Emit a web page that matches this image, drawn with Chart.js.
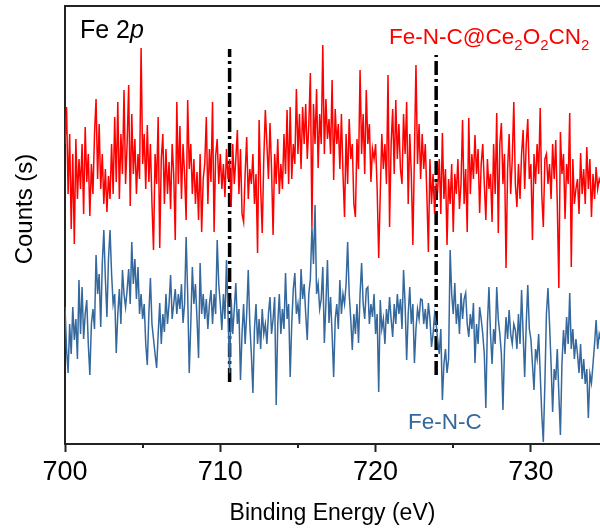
<!DOCTYPE html>
<html>
<head>
<meta charset="utf-8">
<script src="https://cdn.jsdelivr.net/npm/chart.js@4"></script>
<style>
  html, body { margin: 0; padding: 0; background: #fff; }
  #wrap { width: 600px; height: 531px; }
</style>
</head>
<body>
<div id="wrap"><canvas id="xps" width="600" height="531"></canvas></div>
<script>
// Binding energy grid (eV): 700.0 -> 734.5, step 0.1
const eStart = 700.0;
const eStep = 0.1;

// Fe-N-C@Ce2O2CN2 (red), counts in arbitrary units, one row per eV
const countsCeO = [
  300,337,250,310,215,290,200,305,245,285,
  255,300,230,317,262,290,228,280,250,310,
  345,265,320,255,290,240,275,232,268,245,
  300,250,327,262,342,245,310,270,354,260,
  300,359,238,330,270,305,250,290,265,396,
  280,310,255,319,262,300,240,194,290,260,
  327,196,285,310,240,295,250,282,235,300,
  270,204,342,260,318,245,300,270,224,344,
  275,300,250,285,240,272,224,290,212,265,
  280,327,240,295,262,342,212,288,305,260,
  290,255,280,247,295,265,285,237,300,260,
  285,314,250,295,230,222,270,307,245,275,
  260,290,240,270,191,324,255,211,285,334,
  300,265,321,275,209,290,260,305,250,280,
  255,310,270,334,260,337,265,300,280,355,
  290,330,275,337,300,340,285,320,371,217,
  340,300,355,276,330,300,399,290,345,305,
  325,290,364,264,335,300,320,275,330,270,
  227,310,260,325,285,300,240,227,305,275,
  374,290,330,270,354,300,320,262,295,285,
  300,255,186,250,310,275,300,260,369,217,
  300,335,270,344,285,320,275,260,330,290,
  342,240,310,270,199,290,379,280,320,265,
  310,275,300,250,192,285,240,270,230,260,
  255,285,230,311,245,275,199,265,240,280,
  212,270,250,285,235,260,324,240,275,212,
  326,250,290,265,309,270,295,231,280,300,
  260,224,285,255,270,222,300,250,331,211,
  300,321,260,290,176,275,310,250,285,342,
  260,237,280,245,290,314,255,300,325,265,
  280,204,290,260,300,270,336,250,217,285,
  290,260,280,245,300,265,304,240,156,312,
  270,290,225,280,260,331,177,285,240,255,
  265,230,291,250,275,240,297,255,285,227,
  270,245,277,255,265,260
];

// Fe-N-C (blue)
const countsFeNC = [
  137,95,71,120,90,137,104,125,85,164,
  110,157,105,130,144,100,69,120,135,115,
  189,150,170,117,180,214,165,127,185,214,
  170,140,150,91,130,155,120,174,150,137,
  154,175,140,202,160,185,145,177,130,150,
  125,140,100,79,130,166,120,105,90,76,
  110,141,100,130,112,150,120,140,169,125,
  140,155,130,150,135,160,121,140,207,150,
  71,120,177,140,160,125,86,181,130,150,
  125,145,115,140,154,120,150,130,204,160,
  140,114,150,125,184,130,71,145,110,135,
  161,120,135,64,110,140,100,130,174,120,
  90,51,115,140,100,125,95,135,110,120,
  100,130,147,110,125,147,39,120,150,110,
  135,115,171,125,140,67,120,155,171,130,
  140,120,175,145,160,130,104,150,165,217,
  180,239,150,160,135,145,177,101,140,184,
  121,147,110,67,125,140,115,164,130,150,
  140,160,202,150,125,94,130,110,140,101,
  150,181,140,125,155,157,120,140,127,150,
  110,130,52,144,115,125,100,135,120,147,
  125,107,140,120,150,130,145,115,174,140,
  84,130,157,120,140,81,115,135,125,145,
  144,120,135,115,141,125,97,110,130,120,
  104,90,115,44,80,95,71,85,194,150,
  130,161,120,140,110,151,125,145,151,120,
  107,130,115,141,81,120,100,137,125,110,
  90,36,120,157,110,80,115,100,157,125,
  110,90,34,95,127,105,134,110,100,120,
  114,95,130,100,154,110,67,120,159,115,
  105,80,54,95,85,110,70,30,2,60,
  130,156,120,80,32,75,64,95,50,9,
  80,114,90,127,100,151,95,115,85,105,
  90,71,100,65,85,60,75,26,70,61,
  80,100,124,95,110,104
];

// reference positions (dash-dot markers)
const markerEnergies = [710.6, 723.9];
const markerTop = [395, 389];
const markerBottom = [62, 69];

const xTickValues = [700, 710, 720, 730];
const xMinorTicks = [705, 715, 725];

const red = '#ff0000';
const blue = '#35689d';
const axisColor = '#222222';
const fontFamily = '"Liberation Sans", Arial, sans-serif';

function toPoints(values) {
  return values.map((v, i) => ({ x: +(eStart + i * eStep).toFixed(1), y: v }));
}

const markerSets = markerEnergies.map((e, i) => ({
  data: [{ x: e, y: markerBottom[i] }, { x: e, y: markerTop[i] }],
  borderColor: '#000',
  borderWidth: 3.5,
  borderDash: [14, 4, 3, 4],
  pointRadius: 0,
  order: 0,
}));

// draws text runs (sub / italic) left to right
function drawRuns(ctx, runs, x, y) {
  let cx = x;
  runs.forEach(r => {
    ctx.font = (r.italic ? 'italic ' : '') + r.size + 'px ' + fontFamily;
    ctx.fillText(r.t, cx, y + (r.dy || 0));
    cx += ctx.measureText(r.t).width;
  });
}

const labelPlugin = {
  id: 'xpsLabels',
  afterDraw(chart) {
    const ctx = chart.ctx;
    const { left, right, top, bottom } = chart.chartArea;
    const xs = chart.scales.x;
    ctx.save();
    ctx.strokeStyle = axisColor;
    ctx.lineWidth = 2;
    ctx.beginPath();
    ctx.moveTo(left - 1, top);
    ctx.lineTo(right, top);
    // short minor ticks
    xMinorTicks.forEach(v => {
      const px = Math.round(xs.getPixelForValue(v));
      ctx.moveTo(px, bottom);
      ctx.lineTo(px, bottom + 4);
    });
    ctx.stroke();

    // y title
    ctx.save();
    ctx.translate(25, 209);
    ctx.rotate(-Math.PI / 2);
    ctx.fillStyle = '#000';
    ctx.font = '24px ' + fontFamily;
    ctx.textAlign = 'center';
    ctx.textBaseline = 'middle';
    ctx.fillText('Counts (s)', 0, 0);
    ctx.restore();

    ctx.textBaseline = 'alphabetic';
    ctx.fillStyle = '#000';
    drawRuns(ctx, [{ t: 'Fe 2', size: 25 }, { t: 'p', size: 25, italic: true }], 80, 38);

    ctx.fillStyle = red;
    drawRuns(ctx, [
      { t: 'Fe-N-C@Ce', size: 22.5 }, { t: '2', size: 15, dy: 6 },
      { t: 'O', size: 22.5 }, { t: '2', size: 15, dy: 6 },
      { t: 'CN', size: 22.5 }, { t: '2', size: 15, dy: 6 }
    ], 389, 44);

    ctx.fillStyle = blue;
    drawRuns(ctx, [{ t: 'Fe-N-C', size: 22.5 }], 408, 429);
    ctx.restore();
  }
};

new Chart(document.getElementById('xps'), {
  type: 'line',
  data: {
    datasets: [
      {
        label: 'Fe-N-C@Ce2O2CN2',
        data: toPoints(countsCeO),
        borderColor: red,
        borderWidth: 1.5,
        pointRadius: 0,
        tension: 0,
      },
      {
        label: 'Fe-N-C',
        data: toPoints(countsFeNC),
        borderColor: blue,
        borderWidth: 1.5,
        pointRadius: 0,
        tension: 0,
      },
      ...markerSets
    ]
  },
  options: {
    responsive: false,
    animation: false,
    layout: { padding: { top: 6, right: 0, left: 0, bottom: 0 } },
    plugins: {
      legend: { display: false },
      tooltip: { enabled: false },
    },
    scales: {
      x: {
        type: 'linear',
        min: 700,
        max: 734.45,
        afterFit: s => { s.height = 87; },
        border: { display: true, color: axisColor, width: 2 },
        grid: {
          display: true,
          drawOnChartArea: false,
          drawTicks: true,
          tickLength: 8,
          tickWidth: 2,
          tickColor: c => (xTickValues.includes(c.tick && c.tick.value) ? axisColor : 'rgba(0,0,0,0)'),
        },
        ticks: {
          stepSize: 5,
          includeBounds: false,
          autoSkip: false,
          maxRotation: 0,
          padding: 4,
          color: '#000',
          font: { family: fontFamily, size: 27 },
          callback: v => (xTickValues.includes(v) ? String(v) : ''),
        },
        title: {
          display: true,
          text: 'Binding Energy (eV)',
          color: '#000',
          font: { family: fontFamily, size: 23 },
          padding: { top: 0, bottom: 4 },
        },
      },
      y: {
        min: 0,
        max: 438,
        afterFit: s => { s.width = 65; },
        border: { display: true, color: axisColor, width: 2 },
        grid: { display: false },
        ticks: { display: false },
        title: { display: false },
      },
    },
  },
  plugins: [labelPlugin],
});
</script>
</body>
</html>
